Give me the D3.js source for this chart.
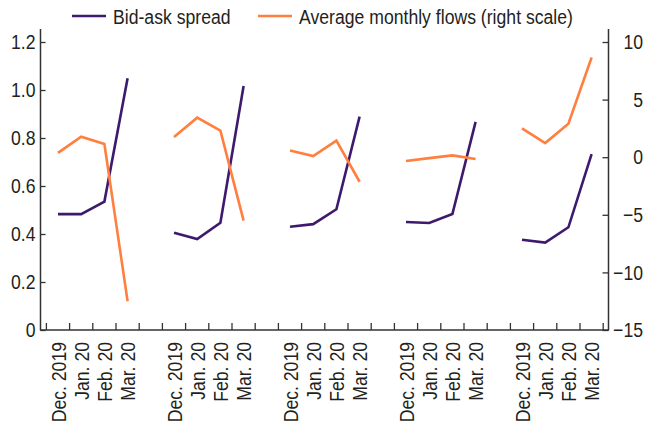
<!DOCTYPE html>
<html>
<head>
<meta charset="utf-8">
<script src="https://cdn.jsdelivr.net/npm/d3@7"></script>
<style>
  body { margin: 0; background: #fff; }
  text { font-family: "Liberation Sans", Arial, sans-serif; fill: #231f20; }
</style>
</head>
<body>
<div id="chart"></div>
<script>
const W = 652, H = 421;

const months = ["Dec. 2019", "Jan. 20", "Feb. 20", "Mar. 20"];
const groups = ["g1", "g2", "g3", "g4", "g5"];

// bid-ask spread, left scale
const spread = [
    [0.483, 0.483, 0.535, 1.049],
    [0.405, 0.379, 0.447, 1.017],
    [0.430, 0.441, 0.503, 0.889],
    [0.450, 0.446, 0.483, 0.867],
    [0.376, 0.364, 0.428, 0.733]
];
// average monthly flows, right scale
const flows = [
    [0.37, 1.78, 1.15, -12.5],
    [1.75, 3.43, 2.30, -5.5],
    [0.59, 0.10, 1.43, -2.13],
    [-0.33, -0.08, 0.16, -0.16],
    [2.50, 1.23, 2.91, 8.65]
];

const leftTicks = [0, 0.2, 0.4, 0.6, 0.8, 1.0, 1.2];
const rightTicks = [-15, -10, -5, 0, 5, 10];

const svg = d3.select("#chart").append("svg")
    .attr("width", W)
    .attr("height", H);

const axisL = 40.5, axisR = 608.5, plotBottom = 330, plotTop = 29;
const SX = 0.84;       // horizontal squeeze to mimic a condensed face
const FS = "21px";

// slots: 4 months per group, one empty slot between groups
const slots = [];
groups.forEach((g, gi) => {
    months.forEach(m => slots.push(g + "|" + m));
    if (gi < groups.length - 1) slots.push(g + "|gap");
});

const x = d3.scaleBand().domain(slots).range([46.4, 603.2]).padding(0);
const yL = d3.scaleLinear().domain([0, 1.2]).range([plotBottom, 42]);
const yR = d3.scaleLinear().domain([-15, 10]).range([plotBottom, 42]);

const axisColor = "#333";

// left axis
const gL = svg.append("g").attr("transform", `translate(${axisL},0)`)
    .call(d3.axisLeft(yL).tickValues(leftTicks).tickSizeInner(-5).tickSizeOuter(0).tickPadding(5)
        .tickFormat(d => d === 0 ? "0" : d3.format(".1f")(d)));
gL.select(".domain").remove();
gL.selectAll("line").attr("stroke", axisColor).attr("stroke-width", 1.3);
gL.selectAll("text").style("font-size", FS).attr("fill", "#231f20")
    .attr("x", -5 / SX).attr("transform", `scale(${SX},1)`);

// right axis
const gR = svg.append("g").attr("transform", `translate(${axisR},0)`)
    .call(d3.axisRight(yR).tickValues(rightTicks).tickSizeInner(-6).tickSizeOuter(0).tickPadding(6));
gR.select(".domain").remove();
gR.selectAll("line").attr("stroke", axisColor).attr("stroke-width", 1.3);
gR.selectAll("text").style("font-size", FS).attr("fill", "#231f20")
    .attr("text-anchor", "end").attr("x", 34.5 / SX).attr("transform", `scale(${SX},1)`);

// axis frame lines
svg.append("line").attr("x1", axisL).attr("x2", axisL).attr("y1", plotTop).attr("y2", plotBottom + 0.5)
    .attr("stroke", axisColor).attr("stroke-width", 1.5);
svg.append("line").attr("x1", axisR).attr("x2", axisR).attr("y1", plotTop).attr("y2", plotBottom + 0.5)
    .attr("stroke", axisColor).attr("stroke-width", 1.5);
svg.append("line").attr("x1", axisL).attr("x2", axisR).attr("y1", plotBottom).attr("y2", plotBottom)
    .attr("stroke", axisColor).attr("stroke-width", 1.5);

// x ticks at slot boundaries
const bounds = slots.map(s => x(s)).concat([x.range()[1]]);
svg.append("g").selectAll("line")
    .data(bounds)
    .enter()
    .append("line")
    .attr("x1", d => d).attr("x2", d => d)
    .attr("y1", plotBottom).attr("y2", plotBottom - 7)
    .attr("stroke", axisColor).attr("stroke-width", 1.3);

// x labels
groups.forEach(g => {
    svg.append("g").selectAll("text")
        .data(months)
        .enter()
        .append("text")
        .attr("transform", m => `translate(${x(g + "|" + m) + x.bandwidth() / 2 + 7.5},342) rotate(-90) scale(${SX},1)`)
        .attr("text-anchor", "end")
        .style("font-size", FS)
        .text(m => m);
});

const purple = "#3d1a6e", orange = "#ff7f3f";

const lineL = d3.line().x(d => x(d.key) + x.bandwidth() / 2).y(d => yL(d.v));
const lineR = d3.line().x(d => x(d.key) + x.bandwidth() / 2).y(d => yR(d.v));

groups.forEach((g, gi) => {
    const sp = spread[gi].map((v, i) => ({ key: g + "|" + months[i], v: v }));
    svg.append("path").attr("d", lineL(sp))
        .attr("fill", "none").attr("stroke", purple).attr("stroke-width", 2.6);
});
groups.forEach((g, gi) => {
    const fl = flows[gi].map((v, i) => ({ key: g + "|" + months[i], v: v }));
    svg.append("path").attr("d", lineR(fl))
        .attr("fill", "none").attr("stroke", orange).attr("stroke-width", 2.6);
});

// legend
const legend = [
    { label: "Bid-ask spread", color: purple, x: 72 },
    { label: "Average monthly flows (right scale)", color: orange, x: 258 }
];
const lg = svg.append("g").selectAll("g")
    .data(legend)
    .enter()
    .append("g")
    .attr("transform", d => `translate(${d.x},16)`);
lg.append("line").attr("x1", 0).attr("x2", 34).attr("y1", 0).attr("y2", 0)
    .attr("stroke", d => d.color).attr("stroke-width", 2.6);
lg.append("text").attr("transform", `translate(41,8) scale(${SX},1)`)
    .style("font-size", FS).text(d => d.label);
</script>
</body>
</html>
